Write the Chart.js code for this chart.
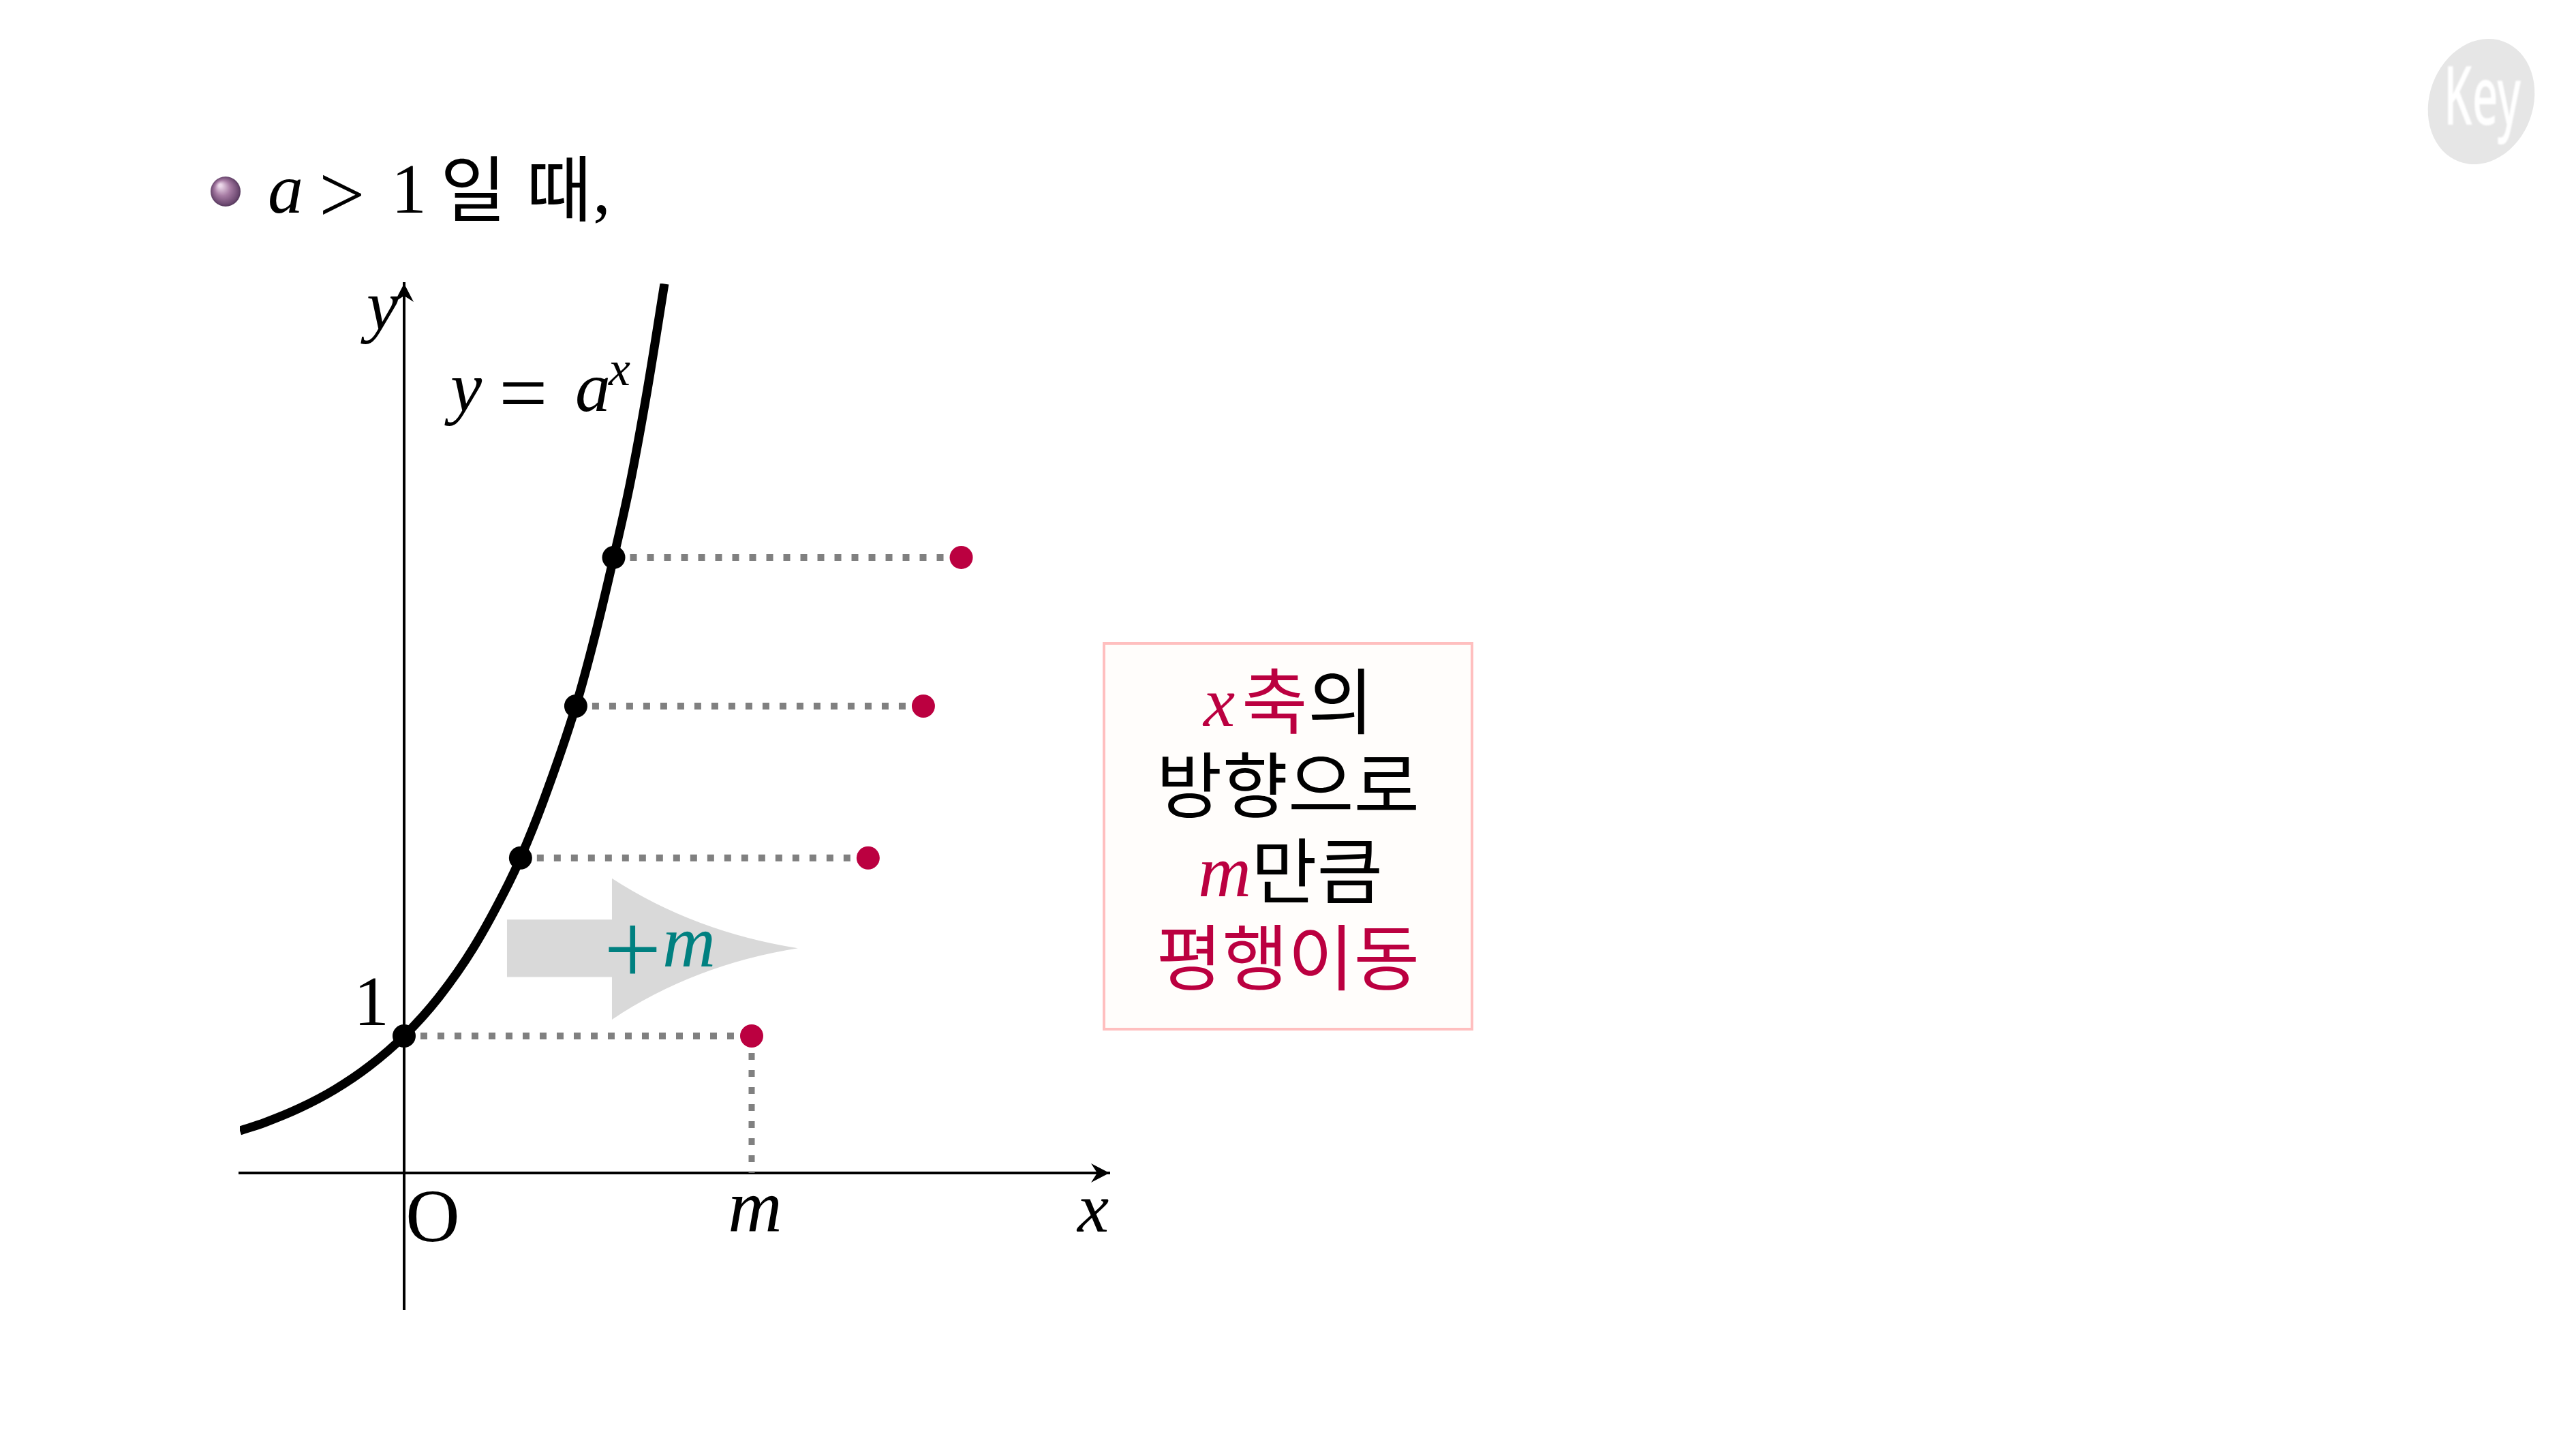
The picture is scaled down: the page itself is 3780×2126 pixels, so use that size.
<!DOCTYPE html>
<html lang="ko">
<head>
<meta charset="utf-8">
<title>a &gt; 1 일 때</title>
<script src="https://cdn.jsdelivr.net/npm/chart.js@4"></script>
<style>
html,body{margin:0;padding:0;background:#fff;overflow:hidden}
canvas{display:block}
</style>
</head>
<body>
<canvas id="c" width="3780" height="2126" style="width:3780px;height:2126px"></canvas>
<script>
// values: x in units of m, y in units of the "1" tick
const curveX = [-0.4725,-0.40,-0.30,-0.20,-0.10,0,0.10,0.20,0.30,0.335,0.40,0.494,0.55,0.603,0.65,0.70,0.749];
const curveY = [0.308,0.369,0.474,0.608,0.78,1,1.283,1.646,2.11,2.30,2.71,3.408,3.93,4.493,5.03,5.72,6.49];
const blackX = [0,0.335,0.494,0.603];
const blackY = [1,2.30,3.408,4.493];
const redX = [1,1.335,1.494,1.603];
const redY = [1,2.30,3.408,4.493];
const xTickValues = [0,1];
const xTickLabels = ['O','m'];
const yTickValues = [1];
const yTickLabels = ['1'];
const xRange = [-0.4725,2.0294];
const yRange = [-0.995,6.4925];

const zip = (xs,ys)=>xs.map((x,i)=>({x,y:ys[i]}));
const SERIF = '"Liberation Serif"';
const KR = '"Noto Sans CJK KR"';
const CRIMSON = '#bb0040', TEAL = '#008080', GREY = '#808080';

function put(ctx,s,x,y,font,color,align){
  ctx.font = font; ctx.fillStyle = color; ctx.textAlign = align||'left'; ctx.textBaseline='alphabetic';
  ctx.fillText(s,x,y);
}

const decor = {
  id:'decor',
  beforeDatasetsDraw(chart){
    const ctx = chart.ctx, sx = chart.scales.x, sy = chart.scales.y;
    // translation arrow, anchored on the axes
    const X = v=>sx.getPixelForValue(v), Y = v=>sy.getPixelForValue(v);
    ctx.save();
    ctx.fillStyle = '#d9d9d9';
    ctx.beginPath();
    ctx.moveTo(X(0.296),Y(1.85));
    ctx.lineTo(X(0.598),Y(1.85));
    ctx.lineTo(X(0.598),Y(2.15));
    ctx.quadraticCurveTo(X(0.835),Y(1.76),X(1.133),Y(1.64));
    ctx.quadraticCurveTo(X(0.835),Y(1.52),X(0.598),Y(1.12));
    ctx.lineTo(X(0.598),Y(1.43));
    ctx.lineTo(X(0.296),Y(1.43));
    ctx.closePath();
    ctx.fill();
    ctx.restore();
  },
  afterDraw(chart){
    const ctx = chart.ctx, sx = chart.scales.x, sy = chart.scales.y, a = chart.chartArea;
    const ox = sx.getPixelForValue(0), oy = sy.getPixelForValue(0);
    ctx.save();
    // axis arrow heads
    ctx.fillStyle='#000';
    const head=(tx,ty,ang)=>{
      ctx.save();ctx.translate(tx,ty);ctx.rotate(ang);
      ctx.beginPath();ctx.moveTo(0,0);ctx.lineTo(-27,-14);ctx.lineTo(-18,0);ctx.lineTo(-27,14);ctx.closePath();ctx.fill();
      ctx.restore();
    };
    head(a.right,oy,0);
    head(ox,a.top,-Math.PI/2);

    // tick labels, placed from the scales
    const serif=(sz,it)=>`${it?'italic ':''}${sz}px ${SERIF}`;
    sx.ticks.forEach((t,i)=>{
      const lab=xTickLabels[i], px=sx.getPixelForValue(t.value);
      if(lab==='O') put(ctx,lab,px+42,oy+100,serif(110),'#000','center');
      else put(ctx,lab,px+5,oy+86,serif(110,true),'#000','center');
    });
    sy.ticks.forEach((t,i)=>{
      put(ctx,yTickLabels[i],ox-22,sy.getPixelForValue(t.value)-16,serif(104),'#000','right');
    });
    put(ctx,'x',a.right-24,oy+86,serif(104,true),'#000','center');
    put(ctx,'y',ox-32,483,serif(104,true),'#000','center');

    // curve label
    put(ctx,'y',661,603,serif(104,true),'#000');
    put(ctx,'=',732,619,serif(127),'#000');
    put(ctx,'a',844,603,serif(104,true),'#000');
    put(ctx,'x',893,565,serif(72,true),'#000');

    // "+m"
    put(ctx,'+',886,1443,serif(150),TEAL);
    put(ctx,'m',972,1418,serif(108,true),TEAL);

    // heading
    const g=ctx.createRadialGradient(323,272,2,331,281,23);
    g.addColorStop(0,'#ecd8ea');g.addColorStop(0.45,'#a67ba3');g.addColorStop(0.85,'#6e4a72');g.addColorStop(1,'#4d3355');
    ctx.fillStyle=g;ctx.beginPath();ctx.arc(331,281,22,0,Math.PI*2);ctx.fill();
    put(ctx,'a',393,312,serif(104,true),'#000');
    put(ctx,'>',468,326,serif(120),'#000');
    put(ctx,'1',574,312,serif(104),'#000');
    put(ctx,'일',646,316,`105px ${KR}`,'#000');
    put(ctx,'때',772,316,`105px ${KR}`,'#000');
    put(ctx,',',870,312,serif(104),'#000');

    // note box
    ctx.fillStyle='#fffdfb';ctx.fillRect(1620,944,540,566);
    ctx.strokeStyle='#ffbfbf';ctx.lineWidth=4;ctx.strokeRect(1620,944,540,566);
    put(ctx,'x',1766,1065,serif(104,true),CRIMSON);
    put(ctx,'축',1822,1068,`105px ${KR}`,CRIMSON);
    put(ctx,'의',1919,1068,`105px ${KR}`,'#000');
    put(ctx,'방향으로',1890,1191,`105px ${KR}`,'#000','center');
    put(ctx,'m',1758,1315,serif(108,true),CRIMSON);
    put(ctx,'만큼',1836,1317,`105px ${KR}`,'#000');
    put(ctx,'평행이동',1890,1444,`105px ${KR}`,CRIMSON,'center');

    // logo
    ctx.save();
    ctx.fillStyle='#e6e6e6';
    ctx.beginPath();ctx.ellipse(3641,149,76,94,20*Math.PI/180,0,Math.PI*2);ctx.fill();
    ctx.filter='blur(1px)';
    ctx.translate(3586,183);ctx.scale(0.55,1);
    put(ctx,'Key',0,0,'500 120px "Noto Sans"','#fff');
    ctx.restore();
    ctx.restore();
  }
};

const dotted=(xs,ys)=>({
  data:zip(xs,ys),showLine:true,borderColor:GREY,borderWidth:10,pointRadius:0,
  borderDash:[10,15],borderDashOffset:1,borderCapStyle:'butt',fill:false
});

new Chart(document.getElementById('c').getContext('2d'),{
  type:'scatter',
  data:{datasets:[
    {data:zip(blackX,blackY),pointRadius:17,pointBackgroundColor:'#000',pointBorderWidth:0,showLine:false},
    {data:zip(redX,redY),pointRadius:17,pointBackgroundColor:CRIMSON,pointBorderWidth:0,showLine:false},
    {data:zip(curveX,curveY),showLine:true,borderColor:'#000',borderWidth:13,pointRadius:0,cubicInterpolationMode:'monotone',borderCapStyle:'butt',fill:false},
    ...blackX.map((x,i)=>dotted([x,redX[i]],[blackY[i],redY[i]])),
    Object.assign(dotted([xTickValues[1],xTickValues[1]],[redY[0],0]),{borderWidth:9,borderDashOffset:0})
  ]},
  options:{
    responsive:false,devicePixelRatio:1,animation:false,
    layout:{padding:{left:352,right:2152,top:416,bottom:205}},
    plugins:{legend:{display:false},tooltip:{enabled:false},title:{display:false}},
    events:[],
    scales:{
      x:{type:'linear',min:xRange[0],max:xRange[1],position:{y:0},
        grid:{display:false,drawTicks:false},
        border:{display:true,color:'#000',width:4},
        ticks:{display:false},
        afterBuildTicks:s=>{s.ticks=xTickValues.map(value=>({value}))},
        afterFit:s=>{s.height=0}},
      y:{type:'linear',min:yRange[0],max:yRange[1],position:{x:0},
        grid:{display:false,drawTicks:false},
        border:{display:true,color:'#000',width:4},
        ticks:{display:false},
        afterBuildTicks:s=>{s.ticks=yTickValues.map(value=>({value}))},
        afterFit:s=>{s.width=0}}
    }
  },
  plugins:[decor]
});
</script>
</body>
</html>
